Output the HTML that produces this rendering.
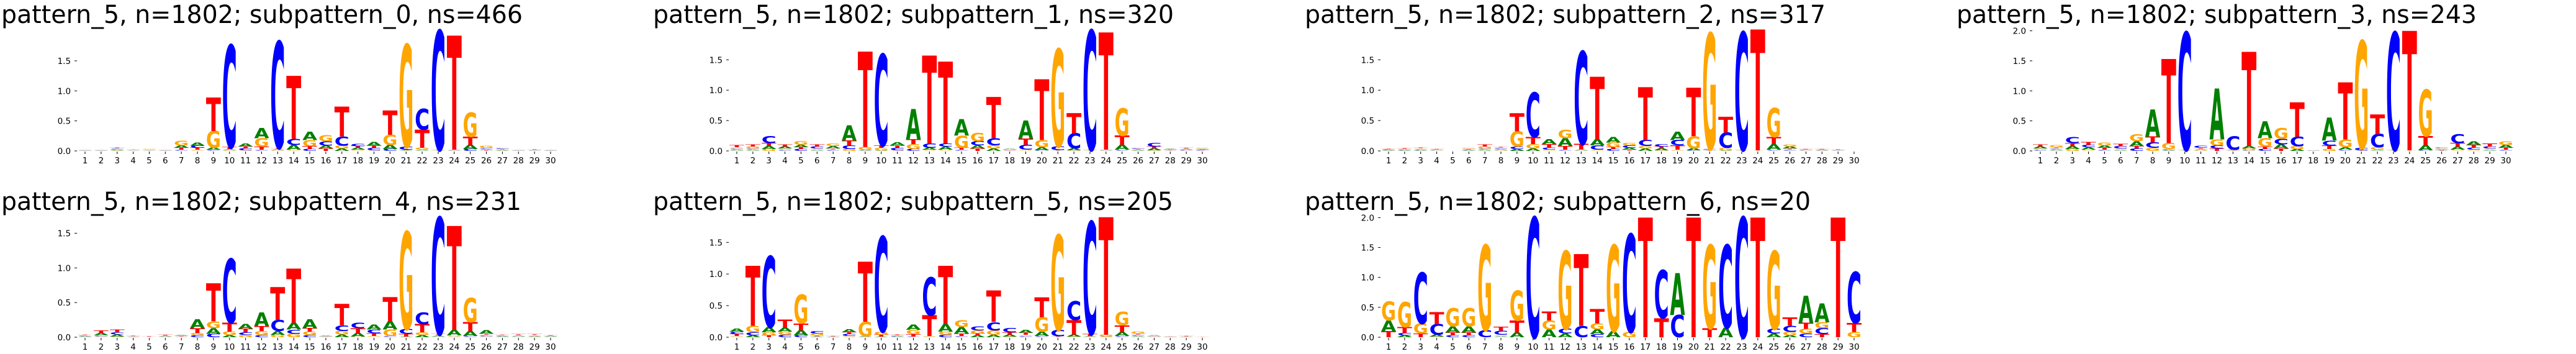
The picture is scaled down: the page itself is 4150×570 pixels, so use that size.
<!DOCTYPE html>
<html><head><meta charset="utf-8"><style>
html,body{margin:0;padding:0;background:#fff;width:4150px;height:570px;overflow:hidden;}
#wrap{width:4150px;height:570px;overflow:hidden;position:relative;}
svg{display:block;overflow:hidden;}
</style></head><body>
<div id="wrap">
<svg id="chart" xmlns="http://www.w3.org/2000/svg" width="4150" height="570" viewBox="0 0 4150 570"></svg>
</div>
<script>
// Position labels 1..30
const positions = [1,2,3,4,5,6,7,8,9,10,11,12,13,14,15,16,17,18,19,20,21,22,23,24,25,26,27,28,29,30];
const titles = [
 "pattern_5, n=1802; subpattern_0, ns=466",
 "pattern_5, n=1802; subpattern_1, ns=320",
 "pattern_5, n=1802; subpattern_2, ns=317",
 "pattern_5, n=1802; subpattern_3, ns=243",
 "pattern_5, n=1802; subpattern_4, ns=231",
 "pattern_5, n=1802; subpattern_5, ns=205",
 "pattern_5, n=1802; subpattern_6, ns=20"
];
const ticks15 = [0.0,0.5,1.0,1.5];
const ticks20 = [0.0,0.5,1.0,1.5,2.0];

// subpattern_0
const A0=[.004,.004,.01,.008,.008,.004,.04,.05,.03,.02,.05,.17,.02,.08,.14,.05,.04,.03,.06,.07,.01,.02,.005,.005,.07,.02,.01,.004,.005,.005];
const C0=[.004,.004,.02,.008,.008,.004,.02,.04,.02,1.7,.03,.02,1.77,.10,.03,.07,.15,.04,.04,.03,.05,.35,1.98,.005,.03,.02,.02,.004,.005,.005];
const G0=[.004,.004,.01,.008,.01,.004,.08,.02,.28,.01,.01,.14,.01,.02,.10,.10,.05,.02,.01,.17,1.7,.03,.005,.01,.40,.03,.01,.004,.005,.005];
const T0=[.004,.004,.02,.008,.008,.004,.03,.03,.56,.03,.03,.05,.02,1.05,.05,.04,.50,.03,.04,.40,.01,.30,.01,1.9,.14,.01,.01,.008,.01,.005];
// subpattern_1
const A1=[.02,.02,.05,.03,.04,.02,.04,.25,.01,.01,.05,.5,.03,.05,.27,.05,.04,.02,.3,.05,.005,.03,.005,.005,.08,.01,.03,.02,.015,.015];
const C1=[.02,.02,.12,.02,.03,.03,.02,.06,.005,1.5,.04,.03,.07,.05,.02,.07,.12,.005,.08,.01,.06,.25,1.96,.005,.02,.02,.06,.005,.01,.01];
const G1=[.02,.03,.03,.02,.06,.02,.04,.03,.05,.04,.01,.08,.02,.02,.2,.14,.05,.01,.02,.12,1.6,.01,.005,.01,.45,.01,.01,.005,.01,.02];
const T1=[.03,.03,.05,.03,.03,.03,.02,.08,1.57,.04,.04,.08,1.45,1.35,.03,.04,.68,.005,.1,1.0,.01,.33,.01,1.93,.15,.01,.03,.01,.02,.01];
// subpattern_2
const A2=[.01,.01,.01,.005,0,.01,.02,.02,.03,.04,.08,.13,.02,.1,.09,.03,.04,.03,.14,.03,.005,.01,.005,.002,.09,.03,.005,.01,.005,.002];
const C2=[.01,.01,.015,.01,0,.01,.02,.02,.04,.73,.03,.02,1.52,.07,.03,.04,.1,.04,.09,.01,.02,.25,1.93,.002,.02,.02,.01,.005,.005,.002];
const G2=[.005,.01,.015,.005,0,.02,.03,.01,.25,.07,.02,.14,.005,.02,.08,.04,.04,.01,.02,.2,1.9,.04,.005,.005,.48,.03,.005,.005,.005,.002];
const T2=[.01,.02,.02,.01,0,.015,.03,.02,.3,.12,.06,.06,.09,1.03,.03,.02,.87,.03,.07,.8,.01,.26,.01,1.99,.12,.02,.01,.01,.01,.002];
// subpattern_3
const A3=[.03,.02,.05,.04,.04,.02,.08,.45,.01,.005,.02,.85,.01,.04,.28,.07,.03,.005,.38,.04,.005,.02,.005,.002,.09,.015,.05,.06,.02,.05];
const C3=[.02,.02,.10,.04,.02,.04,.04,.09,.02,1.95,.03,.05,.22,.01,.03,.09,.16,.005,.08,.02,.04,.22,1.95,.002,.01,.02,.15,.03,.03,.02];
const G3=[.02,.03,.03,.02,.05,.02,.12,.05,.1,.005,.01,.1,.005,.03,.14,.18,.05,.005,.03,.13,1.78,.04,.005,.005,.77,.015,.02,.02,.02,.06];
const T3=[.03,.02,.05,.05,.03,.04,.04,.1,1.4,.01,.02,.04,.005,1.57,.04,.04,.57,.002,.06,.95,.005,.33,.01,1.99,.15,.01,.06,.05,.05,.03];
// subpattern_4
const A4=[.01,.03,.03,.005,.002,.01,.015,.13,.08,.03,.07,.2,.06,.1,.13,.01,.04,.05,.07,.12,.01,.03,.02,.08,.07,.05,.01,.015,.01,.01];
const C4=[.01,.02,.03,.005,.002,.005,.005,.03,.05,.92,.04,.03,.16,.06,.03,.005,.08,.08,.05,.02,.07,.17,1.68,.005,.02,.02,.01,.005,.005,.005];
const G4=[.005,.01,.01,.005,.002,.005,.005,.03,.1,.05,.03,.06,.03,.05,.05,.005,.05,.01,.02,.09,1.4,.04,.005,.02,.35,.01,.005,.005,.01,.005];
const T4=[.01,.04,.04,.01,.01,.02,.01,.07,.55,.13,.05,.07,.47,.78,.05,.005,.31,.07,.04,.35,.04,.12,.02,1.5,.13,.02,.01,.02,.02,.01];
// subpattern_5
const A5=[.05,.03,.08,.06,.08,.01,.005,.05,.01,.01,.01,.08,.005,.12,.1,.03,.04,.03,.05,.07,.005,.03,.01,.005,.06,.02,.02,.003,.003,.002];
const C5=[.04,.05,1.12,.04,.03,.04,.003,.03,.005,1.5,.01,.01,.6,.04,.02,.06,.13,.07,.02,.02,.1,.3,1.77,.003,.02,.02,.003,.003,.003,.002];
const G5=[.02,.1,.05,.05,.45,.03,.003,.02,.23,.05,.01,.07,.01,.05,.11,.05,.07,.01,.02,.23,1.5,.01,.005,.03,.21,.03,.005,.003,.003,.003];
const T5=[.03,.95,.03,.13,.11,.02,.01,.03,.95,.03,.02,.04,.33,.92,.04,.03,.5,.04,.03,.31,.01,.23,.04,1.86,.11,.02,.005,.003,.015,.005];
// subpattern_6
const A6=[.18,.03,0,.03,.1,.1,0,.02,.08,0,.13,.06,0,.08,.1,0,0,0,.7,0,0,.16,0,0,.06,.03,.45,.32,0,0];
const C6=[0,.04,.85,.18,.03,.03,.12,.07,0,2.0,0,.08,.19,.05,0,1.63,0,.8,.37,0,0,1.38,2.0,0,.08,.1,.06,.1,0,.85];
const G6=[.32,.42,.17,.01,.3,.3,1.42,.02,.5,0,.15,1.3,0,.1,1.44,.09,0,0,0,0,1.39,0,0,0,1.3,.06,.08,.1,0,.09];
const T6=[.1,.1,.06,.2,.05,.05,0,.07,.2,0,.15,0,1.2,.24,0,0,2.0,.32,0,2.0,.15,0,0,2.0,0,.14,.1,.05,2.0,.15];

const panelData=[[A0,C0,G0,T0],[A1,C1,G1,T1],[A2,C2,G2,T2],[A3,C3,G3,T3],[A4,C4,G4,T4],[A5,C5,G5,T5],[A6,C6,G6,T6]];
const panelTicks=[ticks15,ticks15,ticks15,ticks20,ticks15,ticks15,ticks20];

// layout (pixel geometry, not data)
const layout=[
 {col:0,    zero:243,unit:96.7, tb:37, tw:840},
 {col:1050, zero:243,unit:97.8, tb:37, tw:839},
 {col:2100, zero:243,unit:97.8, tb:37, tw:839},
 {col:3150, zero:243,unit:96.7, tb:37, tw:838},
 {col:0,    zero:543,unit:111.6,tb:338,tw:838},
 {col:1050, zero:543,unit:101.8,tb:338,tw:838},
 {col:2100, zero:543,unit:96.3, tb:338,tw:815}
];
const letters=['A','C','G','T'];
const colors={A:'#008000',C:'#0000ff',G:'#ffa500',T:'#ff0000'};
const adv={A:0.774,C:0.734,G:0.821,T:0.682};
const NS='http://www.w3.org/2000/svg';
const svg=document.getElementById('chart');
function mk(tag,attrs,parent){const e=document.createElementNS(NS,tag);for(const k in attrs)e.setAttribute(k,attrs[k]);parent.appendChild(e);return e;}

const defs=mk('defs',{},svg);
const cp=mk('clipPath',{id:'frameclip'},defs);
mk('rect',{x:0,y:0,width:4150,height:570},cp);
const root=mk('g',{'clip-path':'url(#frameclip)'},svg);



panelData.forEach((data,pi)=>{
  const L=layout[pi];
  const p1=L.col+137, p30=L.col+887;
  const dx=(p30-p1)/(positions.length-1);
  const xScale=p=>p1+(p-1)*dx;
  const yScale=v=>L.zero-v*L.unit;
  const g=mk('g',{},root);
  
  
  const t=mk('text',{x:L.col+2,y:L.tb,'font-family':'DejaVu Sans, Liberation Sans, sans-serif','font-size':40,textLength:L.tw,lengthAdjust:'spacingAndGlyphs',fill:'#000'},g);
  t.textContent=titles[pi];
  
  
  const axisX=p1-dx*0.5;
  panelTicks[pi].forEach(v=>{
    const y=yScale(v);
    mk('line',{x1:axisX-4,x2:axisX,y1:y,y2:y,stroke:'#000','stroke-width':1},g);
    const lab=mk('text',{x:axisX-10,y:y+5,'text-anchor':'end','font-family':'DejaVu Sans, Liberation Sans, sans-serif','font-size':13.5,fill:'#000'},g);
    lab.textContent=v.toFixed(1);
    
    
  });
  positions.forEach((p,i)=>{
    const x=xScale(p);
    mk('line',{x1:x,x2:x,y1:L.zero+1,y2:L.zero+5,stroke:'#000','stroke-width':1},g);
    const lab=mk('text',{x:x,y:L.zero+20,'text-anchor':'middle','font-family':'DejaVu Sans, Liberation Sans, sans-serif','font-size':13.5,fill:'#000'},g);
    lab.textContent=String(p);
    
    
    const stack=letters.map((c,li)=>({c,v:data[li][i]})).filter(o=>o.v>0).sort((a,b)=>a.v-b.v);
    let cum=0;
    const w=dx*0.93;
    stack.forEach(o=>{
      const yb=yScale(cum), yt=yScale(cum+o.v);
      const h=yb-yt;
      cum+=o.v;
      const sx=w/(adv[o.c]*100), sy=h/72.9;
      const lt=mk('text',{x:0,y:0,'text-anchor':'middle','font-family':'DejaVu Sans, Liberation Sans, sans-serif','font-weight':'bold','font-size':100,fill:colors[o.c],transform:`translate(${x.toFixed(2)},${yb.toFixed(2)}) scale(${sx.toFixed(4)},${sy.toFixed(4)})`,opacity:o.v<0.03?0.5:1},g);
      lt.textContent=o.c;
      
      
    });
  });
});
</script>
</body></html>
